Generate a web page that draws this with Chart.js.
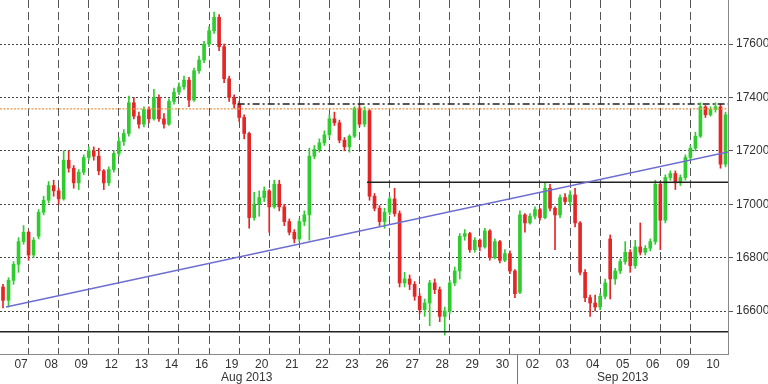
<!DOCTYPE html>
<html>
<head>
<meta charset="utf-8">
<script src="https://cdn.jsdelivr.net/npm/chart.js@4/dist/chart.umd.min.js"></script>
<style>
  html, body { margin: 0; padding: 0; background: #fff; }
  #wrap { width: 768px; height: 384px; }
</style>
</head>
<body>
<div id="wrap"><canvas id="chart"></canvas></div>
<script>
// trading days shown on the x axis
const days = ['07', '08', '09', '12', '13', '14', '16', '19', '20', '21', '22', '23',
  '26', '27', '28', '29', '30', '02', '03', '04', '05', '06', '09', '10'];
const months = ['Aug 2013', 'Sep 2013'];
const monthPos = [8, 20.5];
const monthStart = 17;
const candlesPerDay = 6;
const yTicks = [16600, 16800, 17000, 17200, 17400, 17600];

// first value = last candle of 06 Aug, then 6 candles per day
const opens = [16690,
  16640, 16715, 16775, 16860, 16895, 16810,
  16880, 16970, 17015, 17070, 17050, 17020,
  17165, 17135, 17080, 17120, 17175, 17200,
  17180, 17125, 17080, 17130, 17190, 17235,
  17265, 17380, 17330, 17300, 17355, 17320,
  17400, 17320, 17300, 17385, 17420, 17440,
  17465, 17390, 17500, 17540, 17600, 17650,
  17700, 17590, 17470, 17400, 17375, 17325,
  17265, 16950, 17000, 17025, 17050, 16990,
  17075, 16990, 16935, 16895, 16870, 16935,
  16960, 17180, 17205, 17230, 17260, 17320,
  17305, 17240, 17215, 17255, 17360, 17300,
  17350, 17030, 16985, 16935, 16970, 17020,
  16965, 16705, 16720, 16700, 16655, 16605,
  16630, 16705, 16680, 16580, 16600, 16705,
  16750, 16880, 16890, 16830, 16865, 16840,
  16900, 16800, 16860, 16790, 16815, 16750,
  16670, 16960, 16930, 16955, 16980, 16950,
  17060, 16985, 16960, 17025, 17010, 17035,
  16930, 16745, 16650, 16630, 16615, 16655,
  16870, 16720, 16750, 16785, 16820, 16770,
  16840, 16820, 16835, 16860, 17075, 16940,
  17100, 17115, 17080, 17100, 17175, 17210,
  17255, 17365, 17335, 17355, 17365, 17150];
const highs = [16700,
  16725, 16785, 16875, 16920, 16900, 16875,
  16980, 17030, 17085, 17090, 17060, 17200,
  17200, 17145, 17130, 17185, 17215, 17215,
  17210, 17130, 17140, 17200, 17250, 17280,
  17405, 17400, 17345, 17365, 17365, 17430,
  17410, 17340, 17395, 17435, 17455, 17480,
  17475, 17510, 17555, 17610, 17665, 17720,
  17710, 17600, 17480, 17410, 17385, 17335,
  17270, 17045, 17050, 17065, 17055, 17090,
  17090, 17000, 16945, 16905, 16945, 16975,
  17210, 17220, 17245, 17275, 17335, 17345,
  17315, 17250, 17260, 17365, 17378, 17365,
  17355, 17040, 16995, 16985, 17030, 17060,
  16975, 16745, 16735, 16710, 16665, 16645,
  16715, 16720, 16690, 16615, 16715, 16765,
  16890, 16905, 16895, 16875, 16870, 16910,
  16905, 16870, 16865, 16830, 16825, 16755,
  16975, 16965, 16965, 16990, 16985, 17080,
  17075, 16990, 17035, 17040, 17050, 17060,
  16935, 16755, 16660, 16660, 16665, 16720,
  16885, 16760, 16795, 16860, 16830, 16865,
  16930, 16845, 16870, 17090, 17085, 17110,
  17125, 17125, 17110, 17185, 17220, 17270,
  17380, 17370, 17365, 17380, 17375, 17345];
const lows = [16612,
  16615, 16700, 16745, 16850, 16790, 16800,
  16870, 16960, 17005, 17030, 17000, 17015,
  17120, 17060, 17055, 17110, 17165, 17165,
  17110, 17055, 17070, 17120, 17180, 17220,
  17255, 17320, 17285, 17290, 17305, 17315,
  17310, 17285, 17295, 17375, 17410, 17430,
  17365, 17385, 17490, 17530, 17590, 17640,
  17575, 17455, 17385, 17360, 17310, 17245,
  16910, 16940, 16955, 17010, 16895, 16985,
  16975, 16920, 16885, 16855, 16860, 16920,
  16865, 17170, 17195, 17220, 17250, 17295,
  17230, 17200, 17195, 17250, 17290, 17290,
  17015, 16975, 16920, 16910, 16960, 16955,
  16690, 16690, 16680, 16640, 16590, 16580,
  16545, 16665, 16560, 16510, 16590, 16695,
  16720, 16865, 16820, 16820, 16825, 16835,
  16790, 16795, 16780, 16785, 16740, 16650,
  16665, 16895, 16925, 16945, 16940, 16945,
  16975, 16830, 16950, 17000, 16995, 16915,
  16735, 16635, 16580, 16600, 16605, 16645,
  16645, 16700, 16740, 16775, 16745, 16760,
  16810, 16810, 16825, 16850, 16830, 16930,
  17090, 17055, 17070, 17090, 17165, 17200,
  17250, 17325, 17330, 17345, 17135, 17140];
const closes = [16640,
  16715, 16775, 16860, 16895, 16810, 16865,
  16970, 17015, 17070, 17050, 17020, 17165,
  17135, 17080, 17120, 17175, 17200, 17180,
  17125, 17080, 17130, 17190, 17235, 17265,
  17380, 17330, 17300, 17355, 17320, 17400,
  17320, 17300, 17385, 17420, 17440, 17465,
  17390, 17500, 17540, 17600, 17650, 17700,
  17590, 17470, 17400, 17375, 17325, 17265,
  16950, 17000, 17025, 17050, 16990, 17075,
  16990, 16935, 16895, 16870, 16935, 16960,
  17180, 17205, 17230, 17260, 17320, 17305,
  17240, 17215, 17255, 17360, 17300, 17350,
  17030, 16985, 16935, 16970, 17020, 16965,
  16705, 16720, 16700, 16655, 16605, 16630,
  16705, 16680, 16580, 16600, 16705, 16750,
  16880, 16890, 16830, 16865, 16840, 16900,
  16800, 16860, 16790, 16815, 16750, 16665,
  16960, 16930, 16955, 16980, 16950, 17060,
  16985, 16960, 17025, 17010, 17035, 16930,
  16745, 16650, 16630, 16615, 16655, 16705,
  16720, 16750, 16785, 16820, 16770, 16840,
  16820, 16835, 16860, 17075, 16940, 17100,
  17115, 17080, 17100, 17175, 17210, 17255,
  17365, 17335, 17355, 17365, 17150, 17335];

// drawn lines: trend line and horizontal levels
const trendX = [0, 24];
const trendY = [16615, 17196];
const orangeLevel = 17357;
const dashLevel = 17375;
const dashFrom = 7.7;
const blackLevel = 17082;
const blackFrom = 12;
const bottomLevel = 16522;

const xMin = -0.2, xMax = 24;
const up = '#2fcc2f', down = '#e52626';

// candle time positions (fraction of a trading day)
const xs = opens.map((_, i) => i === 0 ? -0.1 : Math.floor((i - 1) / candlesPerDay) + (((i - 1) % candlesPerDay) + 0.5) / candlesPerDay);
const colors = opens.map((o, i) => closes[i] >= o ? up : down);

const monthMarks = {
  id: 'monthMarks',
  afterDraw(chart) {
    const { ctx, chartArea } = chart;
    const x = chart.scales.x;
    ctx.save();
    ctx.fillStyle = '#333';
    ctx.font = '12px "Liberation Sans", Arial, sans-serif';
    ctx.textAlign = 'center';
    ctx.textBaseline = 'middle';
    months.forEach((m, i) => ctx.fillText(m, x.getPixelForValue(monthPos[i]), chartArea.bottom + 24));
    const sx = Math.round(x.getPixelForValue(monthStart)) + 0.5;
    ctx.strokeStyle = '#777';
    ctx.lineWidth = 1;
    ctx.beginPath();
    ctx.moveTo(sx, chartArea.bottom);
    ctx.lineTo(sx, chart.height);
    ctx.stroke();
    ctx.restore();
  }
};

const flatLine = (v, from) => [{ x: from, y: v }, { x: xMax, y: v }];

new Chart(document.getElementById('chart'), {
  type: 'bar',
  data: {
    datasets: [
      {
        type: 'line', data: trendX.map((x, i) => ({ x: x, y: trendY[i] })),
        borderColor: '#6e6ed2', borderWidth: 1.5, pointRadius: 0, order: 0
      },
      {
        type: 'line', data: flatLine(orangeLevel, xMin),
        borderColor: '#ee9640', borderWidth: 1.2, borderDash: [2, 1.5], pointRadius: 0, order: 0
      },
      {
        type: 'line', data: flatLine(dashLevel, dashFrom),
        borderColor: '#222', borderWidth: 1.5, borderDash: [7, 3, 2, 3], pointRadius: 0, order: 0
      },
      {
        type: 'line', data: flatLine(blackLevel, blackFrom),
        borderColor: '#222', borderWidth: 1.5, pointRadius: 0, order: 0
      },
      {
        type: 'line', data: flatLine(bottomLevel, xMin),
        borderColor: '#222', borderWidth: 1.5, pointRadius: 0, order: 0
      },
      {
        // wicks
        data: xs.map((x, i) => ({ x: x, y: [lows[i], highs[i]] })),
        backgroundColor: colors, barThickness: 1, grouped: false, order: 2
      },
      {
        // bodies
        data: xs.map((x, i) => ({ x: x, y: [opens[i], closes[i]] })),
        backgroundColor: colors, barThickness: 3, minBarLength: 1, grouped: false, order: 1
      }
    ]
  },
  options: {
    responsive: true,
    maintainAspectRatio: false,
    animation: false,
    layout: { padding: 0 },
    scales: {
      x: {
        type: 'linear',
        min: xMin,
        max: xMax,
        offset: false,
        afterBuildTicks: s => {
          s.ticks = [];
          days.forEach((d, i) => { s.ticks.push({ value: i }, { value: i + 0.5 }); });
        },
        afterFit: s => { s.height = 30; s.paddingLeft = 0; s.paddingRight = 0; },
        ticks: {
          autoSkip: false,
          maxRotation: 0,
          padding: 3,
          color: '#333',
          font: { family: '"Liberation Sans", Arial, sans-serif', size: 12 },
          callback: v => Number.isInteger(v) ? '' : days[Math.floor(v)]
        },
        grid: {
          color: c => c.tick && Number.isInteger(c.tick.value) ? '#555' : 'transparent',
          drawTicks: false
        },
        border: { color: '#888', dash: [8, 4] }
      },
      y: {
        position: 'right',
        min: 16439,
        max: 17765,
        afterBuildTicks: s => { s.ticks = yTicks.map(v => ({ value: v })); },
        afterFit: s => { s.width = 40; s.paddingTop = 0; s.paddingBottom = 0; },
        ticks: {
          padding: 3,
          color: '#333',
          font: { family: '"Liberation Sans", Arial, sans-serif', size: 12 },
          callback: v => String(v)
        },
        grid: { color: '#444', tickLength: 5, tickColor: '#555' },
        border: { color: '#888', dash: [2, 2] }
      }
    },
    plugins: {
      legend: { display: false },
      tooltip: { enabled: false }
    }
  },
  plugins: [monthMarks]
});
</script>
</body>
</html>
